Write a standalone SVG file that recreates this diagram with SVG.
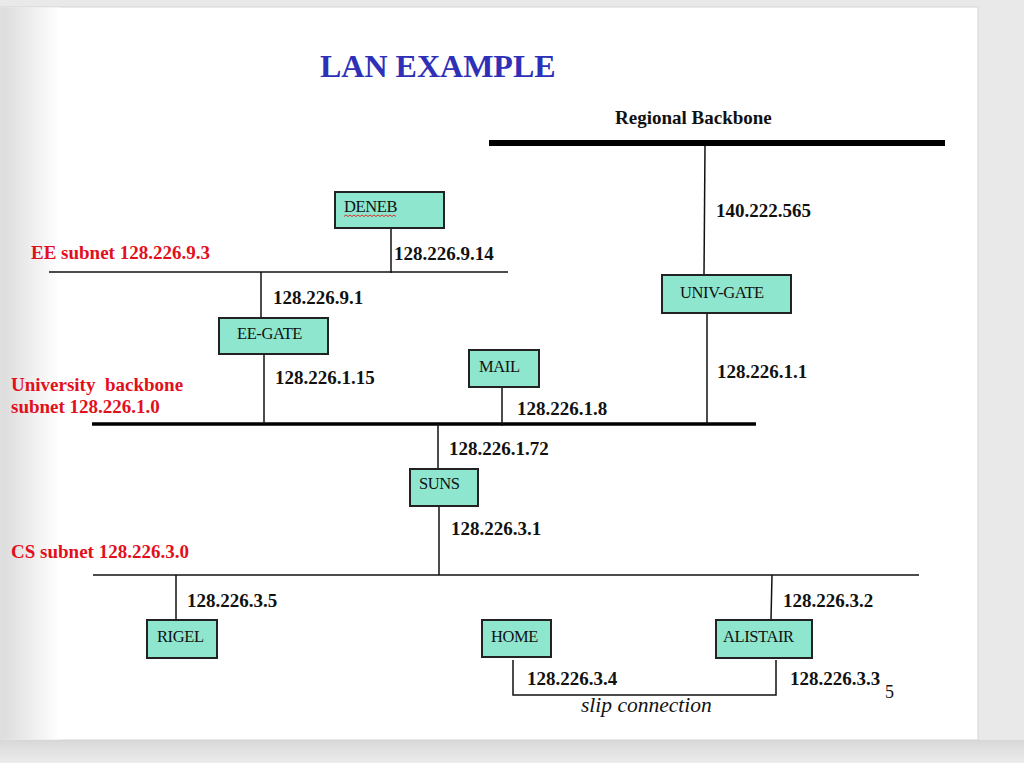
<svg xmlns="http://www.w3.org/2000/svg" width="1024" height="763" viewBox="0 0 1024 763">
<defs>
<linearGradient id="lshade" x1="0" y1="0" x2="1" y2="0">
<stop offset="0" stop-color="#dcdcdc"/>
<stop offset="1" stop-color="#ffffff"/>
</linearGradient>
<linearGradient id="bshade" x1="0" y1="0" x2="0" y2="1">
<stop offset="0" stop-color="#d8d8d8"/>
<stop offset="1" stop-color="#ececec"/>
</linearGradient>
<style>
.box{fill:#8ee6cf;stroke:#222;stroke-width:2}
.bt{font-family:"Liberation Serif",serif;font-size:16.5px;fill:#111;letter-spacing:-0.4px}
.ip{font-family:"Liberation Serif",serif;font-size:19px;font-weight:bold;fill:#111}
.red{font-family:"Liberation Serif",serif;font-size:19px;font-weight:bold;fill:#e2101c;white-space:pre}
.ln{stroke:#111;stroke-width:1.5;fill:none}
</style>
</defs>
<rect x="0" y="0" width="1024" height="763" fill="#e9e9e9"/>
<rect x="0" y="740" width="1024" height="23" fill="url(#bshade)"/>
<rect x="1" y="7" width="977" height="733" fill="#ffffff" stroke="#d4d4d4" stroke-width="1"/>
<rect x="1.5" y="7.5" width="58" height="732" fill="url(#lshade)"/>

<text x="320" y="77" font-family="Liberation Serif, serif" font-size="32" font-weight="bold" fill="#2e30b8">LAN EXAMPLE</text>

<g id="networks">
<line x1="489" y1="143" x2="945" y2="143" stroke="#000" stroke-width="6"/>
<text class="ip" x="615" y="124">Regional Backbone</text>
<line class="ln" x1="49" y1="272" x2="508" y2="272"/>
<text class="red" x="31" y="259">EE subnet 128.226.9.3</text>
<line x1="92" y1="424" x2="756" y2="424" stroke="#000" stroke-width="3.5"/>
<text class="red" x="11" y="391">University  backbone</text>
<text class="red" x="11" y="413">subnet 128.226.1.0</text>
<line class="ln" x1="93" y1="575" x2="919" y2="575"/>
<text class="red" x="11" y="558">CS subnet 128.226.3.0</text>
</g>

<g id="connectors">
<line class="ln" x1="705" y1="146" x2="704" y2="275"/>
<line class="ln" x1="707" y1="314" x2="707" y2="424"/>
<line class="ln" x1="391" y1="229" x2="391" y2="273"/>
<line class="ln" x1="261" y1="272" x2="261" y2="318"/>
<line class="ln" x1="264" y1="355" x2="264" y2="424"/>
<line class="ln" x1="502" y1="388" x2="502" y2="426"/>
<line class="ln" x1="438" y1="424" x2="438" y2="469"/>
<line class="ln" x1="439" y1="506" x2="439" y2="575"/>
<line class="ln" x1="176" y1="575" x2="176" y2="620"/>
<line class="ln" x1="772" y1="575" x2="771" y2="620"/>
<polyline class="ln" points="513,660 513,695 776,695 776,660"/>
<text class="ip" x="716" y="217">140.222.565</text>
<text class="ip" x="717" y="378">128.226.1.1</text>
<text class="ip" x="394" y="260">128.226.9.14</text>
<text class="ip" x="273" y="304">128.226.9.1</text>
<text class="ip" x="275" y="384">128.226.1.15</text>
<text class="ip" x="517" y="415">128.226.1.8</text>
<text class="ip" x="449" y="455">128.226.1.72</text>
<text class="ip" x="451" y="535">128.226.3.1</text>
<text class="ip" x="187" y="607">128.226.3.5</text>
<text class="ip" x="783" y="607">128.226.3.2</text>
<text class="ip" x="527" y="685">128.226.3.4</text>
<text class="ip" x="790" y="685">128.226.3.3</text>
<text x="581" y="712" font-family="Liberation Serif, serif" font-size="21.5" font-style="italic" fill="#111">slip connection</text>
<text x="885" y="698" font-family="Liberation Serif, serif" font-size="18" fill="#111">5</text>
</g>

<g id="DENEB">
<rect class="box" x="335" y="192" width="109" height="36"/>
<text class="bt" x="344" y="212">DENEB</text>
<path d="M344,216.5 l2,-1.5 2,1.5 2,-1.5 2,1.5 2,-1.5 2,1.5 2,-1.5 2,1.5 2,-1.5 2,1.5 2,-1.5 2,1.5 2,-1.5 2,1.5 2,-1.5 2,1.5 2,-1.5 2,1.5 2,-1.5 2,1.5 2,-1.5 2,1.5 2,-1.5 2,1.5 2,-1.5 2,1.5" fill="none" stroke="#e0201c" stroke-width="0.9"/>
</g>
<g id="UNIV-GATE">
<rect class="box" x="662" y="275" width="129" height="38"/>
<text class="bt" x="680" y="298">UNIV-GATE</text>
</g>
<g id="EE-GATE">
<rect class="box" x="219" y="318" width="109" height="36"/>
<text class="bt" x="237" y="339">EE-GATE</text>
</g>
<g id="MAIL">
<rect class="box" x="469" y="350" width="70" height="37"/>
<text class="bt" x="479" y="372">MAIL</text>
</g>
<g id="SUNS">
<rect class="box" x="410" y="469" width="68" height="37"/>
<text class="bt" x="419" y="489">SUNS</text>
</g>
<g id="RIGEL">
<rect class="box" x="147" y="620" width="70" height="38"/>
<text class="bt" x="157" y="642">RIGEL</text>
</g>
<g id="HOME">
<rect class="box" x="482" y="620" width="69" height="37"/>
<text class="bt" x="491" y="642">HOME</text>
</g>
<g id="ALISTAIR">
<rect class="box" x="716" y="620" width="96" height="38"/>
<text class="bt" x="723" y="642">ALISTAIR</text>
</g>
</svg>
